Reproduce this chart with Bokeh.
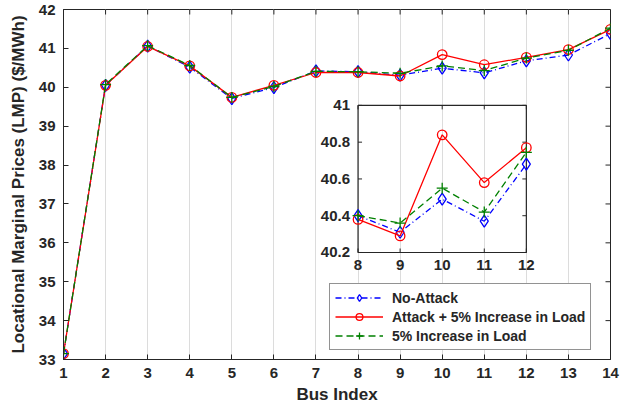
import math
from bokeh.plotting import figure
from bokeh.models import FixedTicker, Legend, LegendItem, Range1d, ColumnDataSource
from bokeh.core.properties import value
from bokeh.embed import file_html
from bokeh.resources import INLINE

# ---------------- data ----------------
bus = [1, 2, 3, 4, 5, 6, 7, 8, 9, 10, 11, 12, 13, 14]
no_attack = [33.15, 40.05, 41.06, 40.52, 39.71, 39.99, 40.42, 40.40, 40.31, 40.49, 40.37, 40.68, 40.83, 41.38]
attack_5 = [33.15, 40.05, 41.05, 40.55, 39.74, 40.05, 40.38, 40.38, 40.29, 40.84, 40.58, 40.77, 40.97, 41.49]
load_5 = [33.15, 40.07, 41.07, 40.56, 39.74, 40.02, 40.41, 40.40, 40.36, 40.55, 40.43, 40.75, 40.95, 41.52]

x_ticks = list(range(1, 15))
y_ticks = list(range(33, 43))

inset_bus = [8, 9, 10, 11, 12]
inset_no_attack = [40.40, 40.31, 40.49, 40.37, 40.68]
inset_attack_5 = [40.38, 40.29, 40.84, 40.58, 40.77]
inset_load_5 = [40.40, 40.36, 40.55, 40.42, 40.745]
inset_y_ticks = [40.2, 40.4, 40.6, 40.8, 41.0]
inset_y_labels = ["40.2", "40.4", "40.6", "40.8", "41"]
inset_x_labels = ["8", "9", "10", "11", "12"]

labels = ["No-Attack", "Attack + 5% Increase in Load", "5% Increase in Load"]

# ---------------- styles ----------------
FONT = "Liberation Sans"
AX = "#262626"
BLUE, RED, GREEN = "#0000ff", "#ff0000", "#008000"

p = figure(frame_width=547, frame_height=350,
           x_range=Range1d(x_ticks[0], x_ticks[-1]), y_range=Range1d(y_ticks[0], y_ticks[-1]),
           output_backend="svg", toolbar_location=None,
           min_border_left=63, min_border_right=10, min_border_top=9, min_border_bottom=46)
p.outline_line_color = AX
p.outline_line_width = 1
p.background_fill_color = "white"
p.border_fill_color = "white"

p.extra_y_ranges = {"inset": Range1d(39.618, 41.5215)}

for ax in p.xaxis + p.yaxis:
    ax.axis_line_color = AX
    ax.major_tick_line_color = AX
    ax.major_tick_in = 5
    ax.major_tick_out = 0
    ax.minor_tick_line_color = None
    ax.major_label_text_font = FONT
    ax.major_label_text_font_style = "bold"
    ax.major_label_text_color = AX
    ax.major_label_text_font_size = "15px"
    ax.major_label_standoff = 8
    ax.axis_label_text_font = FONT
    ax.axis_label_text_font_style = "bold"
    ax.axis_label_text_font_size = "17px"
    ax.axis_label_text_color = AX

p.xaxis.ticker = FixedTicker(ticks=x_ticks)
p.yaxis.ticker = FixedTicker(ticks=y_ticks)
p.xaxis.axis_label = "Bus Index"
p.yaxis.axis_label = "Locational Marginal Prices (LMP) ($/MWh)"
p.xaxis.axis_label_standoff = 4
p.yaxis.axis_label_standoff = 8

p.xgrid.ticker = FixedTicker(ticks=x_ticks)
p.xgrid.grid_line_color = "#dcdcdc"
p.ygrid.grid_line_color = None

# inward ticks on the top and right edges (screen-length rays)
p.ray(x_ticks, [y_ticks[-1]] * len(x_ticks), length=5, length_units="screen",
      angle=-math.pi / 2, line_color=AX, line_width=1)
p.ray([x_ticks[-1]] * len(y_ticks), y_ticks, length=5, length_units="screen",
      angle=math.pi, line_color=AX, line_width=1)

# ---------------- main series ----------------
src = ColumnDataSource(dict(x=bus, a=no_attack, b=attack_5, c=load_5))
l1 = p.line("x", "a", source=src, color=BLUE, line_width=1.3, line_dash="6 3 1 3")
m1 = p.scatter("x", "a", source=src, marker="diamond", size=12, fill_color=None,
               line_color=BLUE, line_width=1.3)
l2 = p.line("x", "b", source=src, color=RED, line_width=1.3)
m2 = p.scatter("x", "b", source=src, marker="circle", size=9.5, fill_color=None,
               line_color=RED, line_width=1.3)
l3 = p.line("x", "c", source=src, color=GREEN, line_width=1.3, line_dash="7 4")
m3 = p.scatter("x", "c", source=src, marker="cross", size=11, line_color=GREEN,
               line_width=1.3)

# ---------------- inset ----------------
p.quad(left=[inset_bus[0]], right=[inset_bus[-1]], bottom=[inset_y_ticks[0]],
       top=[inset_y_ticks[-1]], y_range_name="inset", fill_color=None,
       line_color=AX, line_width=1.2)

# inset inward ticks on all four sides
n_x, n_y = len(inset_bus), len(inset_y_ticks)
p.ray(inset_bus, [inset_y_ticks[0]] * n_x, y_range_name="inset", length=4,
      length_units="screen", angle=math.pi / 2, line_color=AX, line_width=1)
p.ray(inset_bus, [inset_y_ticks[-1]] * n_x, y_range_name="inset", length=4,
      length_units="screen", angle=-math.pi / 2, line_color=AX, line_width=1)
p.ray([inset_bus[0]] * n_y, inset_y_ticks, y_range_name="inset", length=4,
      length_units="screen", angle=0, line_color=AX, line_width=1)
p.ray([inset_bus[-1]] * n_y, inset_y_ticks, y_range_name="inset", length=4,
      length_units="screen", angle=math.pi, line_color=AX, line_width=1)

isrc = ColumnDataSource(dict(x=inset_bus, a=inset_no_attack, b=inset_attack_5, c=inset_load_5))
p.line("x", "a", source=isrc, y_range_name="inset", color=BLUE, line_width=1.3, line_dash="6 3 1 3")
p.scatter("x", "a", source=isrc, y_range_name="inset", marker="diamond", size=12,
          fill_color=None, line_color=BLUE, line_width=1.3)
p.line("x", "b", source=isrc, y_range_name="inset", color=RED, line_width=1.3)
p.scatter("x", "b", source=isrc, y_range_name="inset", marker="circle", size=9.5,
          fill_color=None, line_color=RED, line_width=1.3)
p.line("x", "c", source=isrc, y_range_name="inset", color=GREEN, line_width=1.3, line_dash="7 4")
p.scatter("x", "c", source=isrc, y_range_name="inset", marker="cross", size=11,
          line_color=GREEN, line_width=1.3)

# inset tick labels
ysrc = ColumnDataSource(dict(x=[inset_bus[0]] * n_y, y=inset_y_ticks, t=inset_y_labels))
p.text("x", "y", text="t", source=ysrc, y_range_name="inset", x_offset=-8,
       text_align="right", text_baseline="middle", text_font=value(FONT),
       text_font_style="bold", text_font_size="15px", text_color=AX)
xsrc = ColumnDataSource(dict(x=inset_bus, y=[inset_y_ticks[0]] * n_x, t=inset_x_labels))
p.text("x", "y", text="t", source=xsrc, y_range_name="inset", y_offset=8,
       text_align="center", text_baseline="top", text_font=value(FONT),
       text_font_style="bold", text_font_size="15px", text_color=AX)

# ---------------- legend ----------------
legend = Legend(items=[LegendItem(label=labels[0], renderers=[l1, m1]),
                       LegendItem(label=labels[1], renderers=[l2, m2]),
                       LegendItem(label=labels[2], renderers=[l3, m3])],
                location=(266, 9))
legend.border_line_color = AX
legend.border_line_width = 1
legend.background_fill_color = "white"
legend.background_fill_alpha = 1
legend.label_text_font = FONT
legend.label_text_font_style = "bold"
legend.label_text_font_size = "14px"
legend.label_text_color = AX
legend.glyph_width = 48
legend.glyph_height = 17
legend.label_height = 17
legend.label_standoff = 9
legend.padding = 5
legend.spacing = 2
legend.margin = 0
p.add_layout(legend)

open("out.html", "w").write(file_html(p, INLINE))
